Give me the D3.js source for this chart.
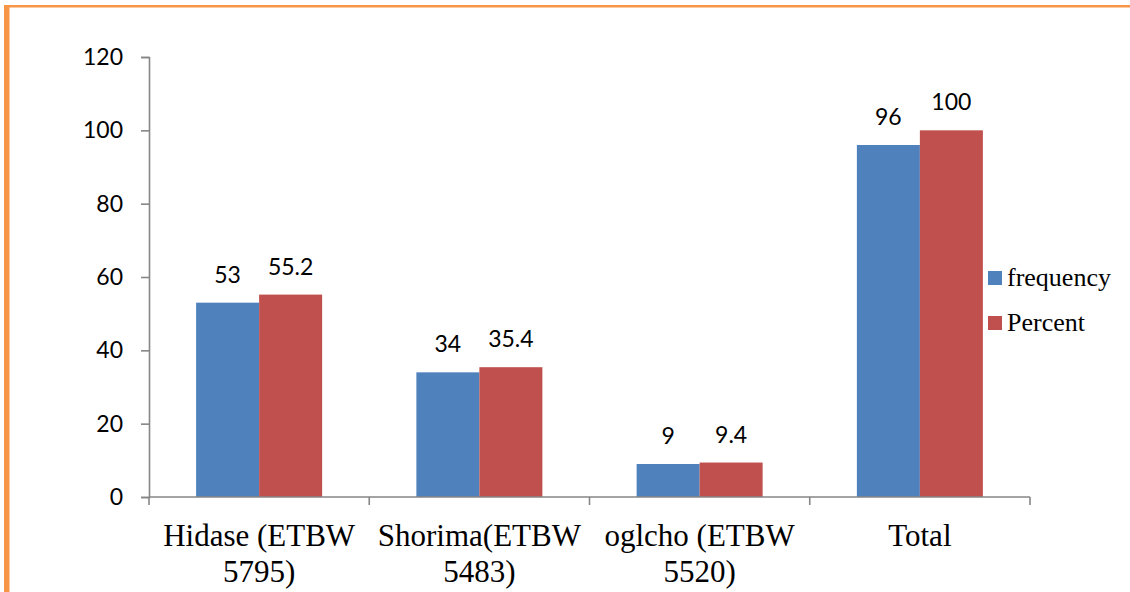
<!DOCTYPE html>
<html>
<head>
<meta charset="utf-8">
<script src="https://cdn.jsdelivr.net/npm/d3@7"></script>
<style>
  html, body { margin: 0; padding: 0; background: #fff; }
  svg { display: block; }
</style>
</head>
<body>
<svg id="chart" width="1130" height="592"></svg>
<script>
const categories = [["Hidase (ETBW", "5795)"], ["Shorima(ETBW", "5483)"], ["oglcho (ETBW", "5520)"], ["Total"]];
const seriesNames = ["frequency", "Percent"];
const frequency = [53, 34, 9, 96];
const percent = [55.2, 35.4, 9.4, 100];
const yTicks = [0, 20, 40, 60, 80, 100, 120];
const colors = ["#4F81BD", "#C0504D"];

(function () {
const svg = d3.select("#chart");
const W = 1130, H = 592;

// orange frame
svg.append("rect").attr("x", 4).attr("y", 5).attr("width", W).attr("height", 2.5).attr("fill", "#F79646");
svg.append("rect").attr("x", 4).attr("y", 5).attr("width", 5.5).attr("height", H).attr("fill", "#F79646");

const pLeft = 149, pRight = 1030, pTop = 57, pBottom = 497;
const catIdx = categories.map((d, i) => i);
const x0 = d3.scaleBand().domain(catIdx).range([pLeft, pRight]).padding(0);
const x1 = d3.scaleBand().domain(seriesNames).range([0, x0.bandwidth()]).paddingInner(0).paddingOuter(0.748);
const y = d3.scaleLinear().domain([0, 120]).range([pBottom, pTop]);

const axisColor = "#868686";
const numFont = "Lato, 'Open Sans', sans-serif";

// y axis
const yAxis = svg.append("g").attr("transform", `translate(${pLeft},0)`)
  .call(d3.axisLeft(y).tickValues(yTicks).tickSize(8).tickPadding(18).tickFormat(d3.format("d")));
yAxis.select(".domain").attr("stroke", axisColor).attr("stroke-width", 1.6);
yAxis.selectAll(".tick line").attr("stroke", axisColor).attr("stroke-width", 1.6);
yAxis.selectAll(".tick text").attr("font-family", numFont).attr("font-size", "23px").attr("fill", "#000");

// bars
const data = catIdx.map(i => ({ i, vals: [frequency[i], percent[i]] }));
const groups = svg.append("g").selectAll("g").data(data).join("g")
  .attr("transform", d => `translate(${x0(d.i)},0)`);
groups.selectAll("rect").data(d => d.vals.map((v, k) => ({ v, k }))).join("rect")
  .attr("x", d => x1(seriesNames[d.k]))
  .attr("width", x1.bandwidth())
  .attr("y", d => y(d.v))
  .attr("height", d => y(0) - y(d.v))
  .attr("fill", d => colors[d.k]);
groups.selectAll("text.val").data(d => d.vals.map((v, k) => ({ v, k }))).join("text")
  .attr("class", "val")
  .attr("x", d => x1(seriesNames[d.k]) + x1.bandwidth() / 2)
  .attr("y", d => y(d.v) - 20)
  .attr("text-anchor", "middle")
  .attr("font-family", numFont)
  .attr("font-size", "23px")
  .attr("fill", "#000")
  .text(d => d.v);

// x axis
const xAxis = svg.append("g").attr("transform", `translate(0,${pBottom})`);
xAxis.append("line").attr("x1", pLeft).attr("x2", pRight).attr("y1", 0).attr("y2", 0)
  .attr("stroke", axisColor).attr("stroke-width", 1.6);
const tickXs = catIdx.map(i => x0(i)).concat([x0(catIdx[catIdx.length - 1]) + x0.bandwidth()]);
xAxis.selectAll("line.tk").data(tickXs).join("line").attr("class", "tk")
  .attr("x1", d => d).attr("x2", d => d).attr("y1", 0).attr("y2", 8)
  .attr("stroke", axisColor).attr("stroke-width", 1.6);
xAxis.selectAll("text.cat").data(catIdx).join("text").attr("class", "cat")
  .attr("text-anchor", "middle")
  .attr("font-family", "'Liberation Serif', 'Times New Roman', serif")
  .attr("font-size", "31px")
  .attr("fill", "#000")
  .each(function (i) {
    const t = d3.select(this);
    categories[i].forEach((line, k) => {
      t.append("tspan").attr("x", x0(i) + x0.bandwidth() / 2).attr("y", 49 + k * 36).text(line);
    });
  });

// legend
const legend = svg.append("g");
seriesNames.forEach((name, k) => {
  const ly = 271 + k * 45;
  legend.append("rect").attr("x", 988).attr("y", ly).attr("width", 14).attr("height", 14).attr("fill", colors[k]);
  legend.append("text").attr("x", 1007).attr("y", ly + 15)
    .attr("font-family", "'Liberation Serif', 'Times New Roman', serif")
    .attr("font-size", "26px").attr("fill", "#000").text(name);
});
})();
</script>
</body>
</html>
